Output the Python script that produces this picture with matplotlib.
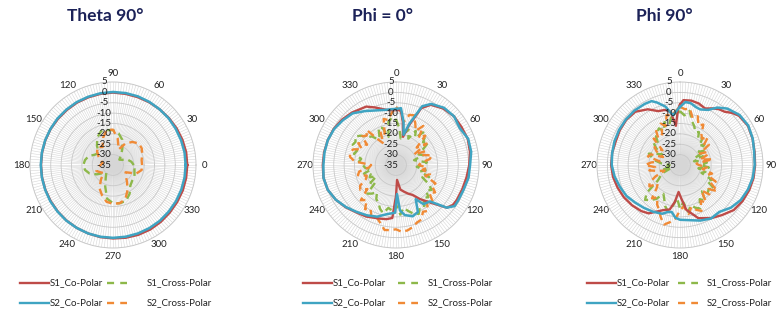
import numpy as np
import matplotlib
matplotlib.use("Agg")
import matplotlib.pyplot as plt
from matplotlib.lines import Line2D

plt.rcParams['font.family'] = ['Lato', 'DejaVu Sans']

# ---------------- data ----------------
titles = ["Theta 90°", "Phi = 0°", "Phi 90°"]
series_names = ["S1_Co-Polar", "S2_Co-Polar", "S1_Cross-Polar", "S2_Cross-Polar"]
r_ticks = [5, 0, -5, -10, -15, -20, -25, -30, -35]
angle_ticks = [0, 30, 60, 90, 120, 150, 180, 210, 240, 270, 300, 330]

ang10 = list(range(0, 360, 10))
ang5 = list(range(0, 360, 5))

# Theta 90 (0 deg at right, counter-clockwise)
th_s1_co = [0.8, 0.8, 0.6, 0.4, 0.2, 0.0, -0.1, -0.2, -0.2, -0.1, -0.2, -0.3,
            -0.3, -0.4, -0.4, -0.3, -0.3, -0.3, -0.3, -0.3, -0.3, -0.3, -0.2, -0.1,
            0.0, 0.1, 0.3, 0.4, 0.6, 0.8, 0.9, 0.8, 0.7, 0.7, 0.8, 0.8]
th_s2_co = [0.0, 0.0, -0.1, -0.1, 0.0, 0.0, 0.1, 0.2, 0.2, 0.2, 0.1, 0.0,
            0.0, -0.1, -0.1, -0.2, -0.2, -0.2, -0.2, -0.2, -0.2, -0.1, -0.1, 0.0,
            0.0, 0.1, 0.1, 0.1, 0.1, 0.1, 0.1, 0.1, 0.0, 0.0, 0.0, 0.0]
th_s1_x = [-25, -26, -27.5, -30, -31, -29, -26, -22, -19.5, -18.2, -17.9, -17.8,
           -19.8, -23, -26, -25, -22.5, -21.3, -20.7, -21.3, -23, -26, -29, -30,
           -28, -24, -18.5, -16.6, -16.3, -16.6, -19, -22, -23, -23, -24, -24.5]
th_s2_x = [-21, -21, -20, -19, -18.8, -20.5, -23, -27, -22, -18, -17.8, -21,
           -25, -23.5, -25, -27, -29, -30, -29, -27.5, -26.5, -28, -29, -26,
           -22, -19.5, -17, -16.3, -16.3, -17.5, -21, -24.5, -27, -28, -23, -21]

# Phi = 0 (0 deg at top, clockwise)
p0_s2_co_ang = [0, 5, 10, 14, 18, 24, 30, 40, 50, 60, 70, 80, 90, 100, 110, 120, 125,
                130, 137, 145, 150, 155, 162, 170, 175, 178, 181, 190, 200, 210, 220,
                230, 240, 250, 260, 270, 280, 290, 300, 310, 320, 330, 340, 350, 355]
p0_s2_co = [-8, -7.5, -14, -20, -14, -4, -1, 1, 1.5, 0.5, 2, 1.8, 0.7, 0.5, -0.3, -0.5, -0.5,
            -3, -11, -12, -16, -10, -9, -10.5, -13, -21, -12, -11, -8.5, -7, -5.5,
            -3.5, -1.5, 0, 0.5, 0, 0, 0, -0.5, -1.5, -2.5, -5, -7, -8, -8]
p0_s1_co_ang = [0, 5, 9, 14, 18, 24, 30, 40, 50, 60, 70, 80, 90, 100, 110, 120, 125,
                130, 137, 145, 151, 157, 163, 170, 176, 180, 184, 190, 197, 210, 220,
                230, 240, 250, 260, 270, 280, 290, 300, 310, 320, 333, 340, 350, 355]
p0_s1_co = [-8.5, -8.5, -14, -21, -15, -5, -1.5, 0.5, 1.5, 1.5, 1.8, 1.2, 0.3, -0.5, -1, -1.2, -1.5,
            -3, -10, -15, -18.5, -20, -21.5, -23, -27.8, -20, -9.4, -8.5, -8, -6.3, -5.2,
            -3.3, -1.5, 0, 0.5, 0.3, 0.2, 0, -0.3, -1, -2, -3.4, -5.5, -8, -8.5]
p0_s1_x = [-13, -17, -22, -19, -17, -21, -16, -19, -14.5, -15, -18, -16,
           -20, -23, -21, -26, -24, -20, -22, -25, -20.5, -23, -18, -21,
           -17, -14, -16, -13, -14.5, -11, -12, -9, -10, -12, -14, -11,
           -16, -13, -14, -11, -12.5, -15, -16, -19, -17, -15.5, -22, -20,
           -24, -21, -22, -19, -23, -20, -19, -17, -18, -14, -15, -12,
           -12.5, -11, -13, -16, -17, -20, -19, -15, -16, -21, -14, -12]
p0_s2_x = [-7, -9, -14, -10, -9.5, -13, -16, -12, -18, -15, -22, -17,
           -25, -19, -21, -17, -18.5, -23, -24, -20, -22, -18, -20, -14,
           -15, -12, -14, -10, -12, -8, -9, -6, -5.5, -4, -3, -2.7,
           -4, -3.5, -3.2, -6, -8, -7, -10.5, -9, -13, -11, -17, -14,
           -15, -19, -20, -16, -17, -22, -23, -15, -12.5, -12, -13, -17,
           -14, -18, -13.5, -15, -13, -20, -23, -17, -19, -12, -13, -10]

# Phi 90 (0 deg at top, clockwise)
p90_s2_co_ang = [0, 5, 10, 15, 20, 27, 33, 40, 50, 60, 70, 80, 90, 100, 110, 120, 130,
                 140, 150, 160, 170, 180, 185, 190, 195, 200, 210, 220, 230, 240, 250,
                 260, 270, 280, 290, 300, 310, 320, 330, 336, 340, 346, 352, 356]
p90_s2_co = [-7, -4.5, -4.8, -6, -6.5, -5.2, -2, 0.5, 2.5, 3, 2.3, 1.3, 1, 0.6, -0.2, -1.2, -3,
             -5.5, -5.2, -6.5, -8, -8.6, -9.5, -12, -11.5, -10, -9, -8, -6.8, -5.2, -4.2,
             -3, -2.1, -1.8, -1.4, -1.1, -0.9, -0.8, -1, -1.3, -3, -6, -10.8, -9]
p90_s1_co_ang = [0, 3, 10, 17, 24, 30, 35, 40, 45, 50, 60, 70, 80, 90, 100, 110, 120, 130,
                 140, 149, 161, 172, 178, 183, 188, 193, 200, 213, 220, 230, 240, 250,
                 260, 270, 280, 290, 300, 310, 320, 330, 338, 345, 350, 354, 358]
p90_s1_co = [-6, -3.7, -3.5, -4, -5.2, -3.5, -2.2, -1.5, 0.5, 2, 2.8, 2.2, 1.5, 1.2, 1, 0.5, -0.2, -1.2,
             -3.5, -5.2, -7.9, -13.2, -19, -22, -17, -13, -11.9, -7.2, -6, -4.8, -3.8, -3,
             -2.2, -1.8, -1.8, -2, -1.5, -1.2, -1.5, -4, -7, -7.5, -9, -16, -8]
p90_s1_x = [-9, -11, -8.5, -13, -15, -17.5, -16.7, -20, -18, -22, -19.6, -24,
            -21, -27, -23, -28, -24, -22, -25, -21, -26, -22.3, -24, -18,
            -20, -14.8, -17, -16, -18.5, -14, -16, -12, -13, -15, -12, -17,
            -14, -19, -15, -12, -14, -17, -19, -15, -13, -11.2, -14, -22,
            -24, -25.5, -30, -27, -31, -29, -30, -26, -23, -21, -19, -22,
            -25, -21, -18.5, -20, -17, -16, -14.6, -17, -13, -15, -11, -10]
p90_s2_x = [-7, -8, -7.5, -11.5, -10, -14, -12.5, -17, -18.5, -16, -20, -18,
            -24, -20, -21.3, -25, -19, -27, -26, -22, -24, -19, -21, -16,
            -18, -13, -17, -15, -19, -13, -15, -10.6, -12, -14, -11, -15,
            -13, -9, -7, -5.3, -8, -11, -13, -16, -14, -19, -21, -17,
            -18, -22, -27, -24, -20, -23, -18.2, -21, -25, -19, -20, -26,
            -22, -20, -24, -17, -19, -15, -18, -13, -15, -10, -11, -9]

plots = [
    dict(zero='E', direction=1,
         s1_co=(ang10, th_s1_co), s2_co=(ang10, th_s2_co),
         s1_x=(ang10, th_s1_x), s2_x=(ang10, th_s2_x)),
    dict(zero='N', direction=-1,
         s1_co=(p0_s1_co_ang, p0_s1_co), s2_co=(p0_s2_co_ang, p0_s2_co),
         s1_x=(ang5, p0_s1_x), s2_x=(ang5, p0_s2_x)),
    dict(zero='N', direction=-1,
         s1_co=(p90_s1_co_ang, p90_s1_co), s2_co=(p90_s2_co_ang, p90_s2_co),
         s1_x=(ang5, p90_s1_x), s2_x=(ang5, p90_s2_x)),
]

# ---------------- style / layout ----------------
W, H = 778, 311
C_RED = '#BE4B48'
C_BLUE = '#3FA4C2'
C_GREEN = '#8DB84A'
C_ORANGE = '#F08A36'
GRID = '#d6d6d6'
NAVY = '#1c2258'
DASH = (0, (3.2, 2.0))

centers = [(113, 165), (396, 165), (680, 165)]
R = 83
rlabel_dx = [-9, -5, -11]
title_x = [105, 382, 664]
legend_x = [(20, 107, 147), (303, 398, 428), (587, 678, 707)]

fig = plt.figure(figsize=(W / 100, H / 100), dpi=100)


def closed(a, v):
    a = list(a) + [a[0] + 360]
    v = list(v) + [v[0]]
    return np.deg2rad(a), np.array(v)


for i, p in enumerate(plots):
    cx, cy = centers[i]
    ax = fig.add_axes([(cx - R) / W, (H - cy - R) / H, 2 * R / W, 2 * R / H],
                      projection='polar')
    ax.set_theta_zero_location(p['zero'])
    ax.set_theta_direction(p['direction'])
    ax.set_ylim(-35, 5)
    ax.set_yticks([0, -5, -10, -15, -20, -25, -30])
    ax.set_yticklabels([])
    ax.set_xticks(np.deg2rad(angle_ticks))
    ax.set_xticklabels([str(a) for a in angle_ticks], fontsize=7, color='#222222')
    ax.set_xticks(np.deg2rad(np.arange(0, 360, 2)), minor=True)
    ax.tick_params(axis='x', which='both', length=0, pad=-1)
    ax.tick_params(axis='y', length=0)
    ax.xaxis.grid(True, which='major', color=GRID, lw=0.4)
    ax.xaxis.grid(True, which='minor', color=GRID, lw=0.4)
    ax.yaxis.grid(True, color='#c8c8c8', lw=0.6)
    ax.spines['polar'].set_color('#c8c8c8')
    ax.spines['polar'].set_linewidth(0.7)
    ax.set_facecolor('white')

    # radial labels along the upward axis
    for rv in r_ticks:
        frac = (rv + 35) / 40.0
        ax.text(0.5 + rlabel_dx[i] / (2 * R), 0.5 + 0.5 * frac, str(rv),
                transform=ax.transAxes, ha='center', va='center',
                fontsize=7, color='#222222', zorder=6)

    a, v = closed(*p['s1_x'])
    ax.plot(a, v, color=C_GREEN, lw=1.7, ls=DASH, zorder=3)
    a, v = closed(*p['s2_x'])
    ax.plot(a, v, color=C_ORANGE, lw=1.7, ls=DASH, zorder=3)
    a, v = closed(*p['s1_co'])
    ax.plot(a, v, color=C_RED, lw=1.7, zorder=4)
    a, v = closed(*p['s2_co'])
    ax.plot(a, v, color=C_BLUE, lw=1.8, zorder=5)

    # title
    fig.text(title_x[i] / W, 1 - 16 / H, titles[i], ha='center', va='center',
             fontsize=12.5, fontweight='bold', color=NAVY)

    # legend (manual)
    x_line, x_dash, x_text2 = legend_x[i]
    rows = [(283, C_RED, C_GREEN, series_names[0], series_names[2]),
            (303, C_BLUE, C_ORANGE, series_names[1], series_names[3])]
    for (y, c_solid, c_dash, n1, n2) in rows:
        yf = 1 - y / H
        fig.add_artist(Line2D([x_line / W, (x_line + 29) / W], [yf, yf],
                              transform=fig.transFigure, color=c_solid, lw=1.7))
        fig.text((x_line + 30) / W, yf, n1, ha='left', va='center',
                 fontsize=7, color='#222222')
        fig.add_artist(Line2D([x_dash / W, (x_dash + 20) / W], [yf, yf],
                              transform=fig.transFigure, color=c_dash, lw=1.7,
                              ls=(0, (3.0, 2.6))))
        fig.text(x_text2 / W, yf, n2, ha='left', va='center',
                 fontsize=7, color='#222222')

fig.savefig('out.png', dpi=100)
